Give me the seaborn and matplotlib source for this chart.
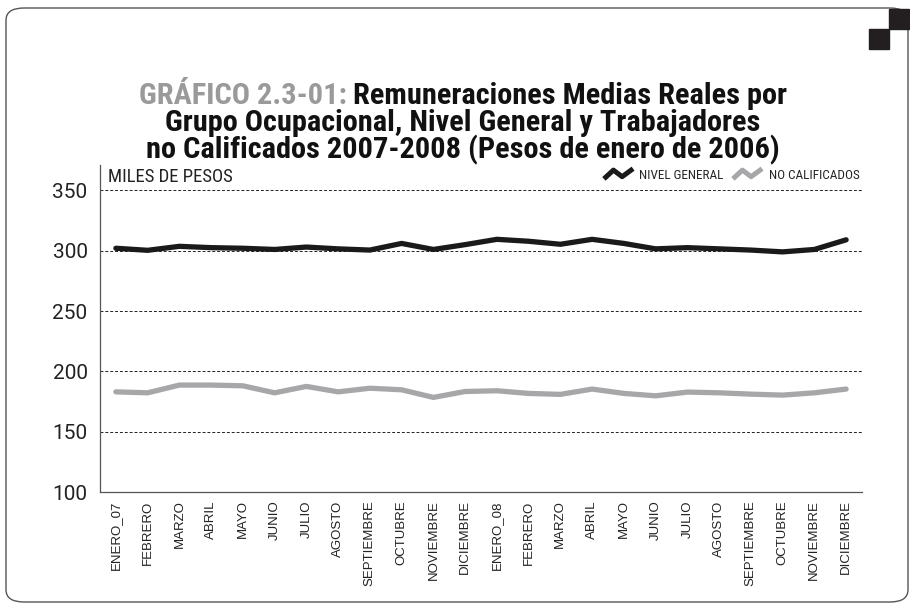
import numpy as np
import pandas as pd
import matplotlib
matplotlib.use("Agg")
import matplotlib.pyplot as plt
from matplotlib import font_manager as fm
from matplotlib.patches import FancyBboxPatch, Rectangle
from matplotlib.path import Path
from matplotlib.lines import Line2D
import seaborn as sns

meses = ["ENERO_07", "FEBRERO", "MARZO", "ABRIL", "MAYO", "JUNIO", "JULIO",
         "AGOSTO", "SEPTIEMBRE", "OCTUBRE", "NOVIEMBRE", "DICIEMBRE",
         "ENERO_08", "FEBRERO", "MARZO", "ABRIL", "MAYO", "JUNIO", "JULIO",
         "AGOSTO", "SEPTIEMBRE", "OCTUBRE", "NOVIEMBRE", "DICIEMBRE"]
nivel_general = [302.0, 300.3, 303.6, 302.5, 302.0, 301.0, 303.0, 301.5, 300.5, 306.0, 301.0, 305.0,
                 309.4, 307.8, 305.3, 309.4, 306.0, 301.5, 302.5, 301.5, 300.5, 299.0, 301.0, 309.0]
no_calificados = [183.0, 182.2, 188.6, 188.6, 188.0, 182.2, 187.5, 183.0, 186.0, 184.7, 178.4, 183.3,
                  183.9, 181.7, 180.9, 185.3, 181.7, 179.7, 182.8, 182.2, 181.1, 180.3, 182.2, 185.3]
series = ["NIVEL GENERAL", "NO CALIFICADOS"]
colores = ["#1a1a1a", "#a7a7aa"]
yticks = [100, 150, 200, 250, 300, 350]

df = pd.DataFrame({
    "idx": list(range(len(meses))) * 2,
    "valor": nivel_general + no_calificados,
    "serie": [series[0]] * len(meses) + [series[1]] * len(meses),
})

# pick a condensed family if one is available
available = {f.name for f in fm.fontManager.ttflist}
cond = next((n for n in ["Roboto Condensed", "Archivo Narrow", "PT Sans Narrow",
                         "Liberation Sans Narrow", "Open Sans Condensed"] if n in available),
            "DejaVu Sans")
plain = next((n for n in ["Liberation Sans", "Arimo", "DejaVu Sans"] if n in available), "DejaVu Sans")
narrow = [cond, "DejaVu Sans"]

sns.set_style("white")
plt.rcParams["font.family"] = narrow

fig = plt.figure(figsize=(9.1, 6.1), dpi=100)
ax = fig.add_axes([100 / 910, 1 - 492 / 610, 762 / 910, 327 / 610])

sns.lineplot(data=df, x="idx", y="valor", hue="serie", palette=colores,
             linewidth=3.8, ax=ax, legend=False, sort=False)

ax.set_xlim(-0.5, len(meses) - 0.5)
ax.set_ylim(100, 371)
ax.set_yticks(yticks)
ax.set_yticklabels([str(v) for v in yticks], fontsize=15, color="#222222",
                   family=["Roboto", "DejaVu Sans"])
ax.set_xticks(range(len(meses)))
ax.set_xticklabels(meses, rotation=90, fontsize=9.5, family=[plain, "DejaVu Sans"], color="#222222")
ax.set_xticks(np.arange(-0.5, len(meses), 1.0), minor=True)
ax.tick_params(axis="x", which="major", length=0, pad=6)
ax.tick_params(axis="x", which="minor", length=5, width=0.8, color="#555555")
ax.tick_params(axis="y", length=5, width=0.8, color="#555555", pad=4)
ax.set_xlabel("")
ax.set_ylabel("")
for v in yticks[1:]:
    ax.axhline(v, color="#222222", lw=0.7, ls=(0, (3, 2)), zorder=0)
for s in ["top", "right"]:
    ax.spines[s].set_visible(False)
for s in ["left", "bottom"]:
    ax.spines[s].set_color("#555555")
    ax.spines[s].set_linewidth(0.9)

ax.text(0.011, 0.962, "MILES DE PESOS", transform=ax.transAxes, fontsize=13.5,
        va="center", ha="left", color="#222222")

# legend with zigzag markers
zig = Path([(-1.0, -0.3), (-0.35, 0.3), (0.25, -0.15), (1.0, 0.4)],
           [Path.MOVETO, Path.LINETO, Path.LINETO, Path.LINETO])
handles = [Line2D([], [], ls="none", marker=zig, markersize=21, markeredgewidth=3.6,
                  color=c, markerfacecolor="none") for c in colores]
leg = ax.legend(handles, series, loc="upper right", bbox_to_anchor=(1.012, 1.025), ncol=2,
                frameon=False, fontsize=9.5, handlelength=2.0, handletextpad=0.6,
                columnspacing=0.8)

# frame and decorations
fig.patches.append(FancyBboxPatch((6 / 910, 8 / 610), 902 / 910, 594 / 610,
                                  boxstyle="round,pad=0,rounding_size=0.02",
                                  transform=fig.transFigure, fill=False,
                                  edgecolor="#555555", lw=1.0))
fig.patches.append(Rectangle((889 / 910, 1 - 29 / 610), 20 / 910, 20 / 610,
                             transform=fig.transFigure, color="#231f20"))
fig.patches.append(Rectangle((869 / 910, 1 - 49 / 610), 20 / 910, 20 / 610,
                             transform=fig.transFigure, color="#231f20"))

# title with gray prefix, sized between the widths of the first and last lines
title_lines = [("GRÁFICO 2.3-01: ", "Remuneraciones Medias Reales por"),
               ("", "Grupo Ocupacional, Nivel General y Trabajadores"),
               ("", "no Calificados 2007-2008 (Pesos de enero de 2006)")]
renderer = fig.canvas.get_renderer()
probe = fig.text(0, 0, "".join(title_lines[2]), fontsize=20, fontweight="bold", family=narrow)
tsize = 20 * 632 / probe.get_window_extent(renderer).width
probe.remove()
tfont = dict(fontsize=tsize, fontweight="bold", family=narrow)
y0 = 1 - 104 / 610
for i, (pre, rest) in enumerate(title_lines):
    y = y0 - i * 27 / 610
    t_pre = fig.text(0, y, pre, color="#9a9a9a", va="baseline", **tfont)
    t_rest = fig.text(0, y, rest, color="#111111", va="baseline", **tfont)
    w_pre = t_pre.get_window_extent(renderer).width if pre else 0
    w_rest = t_rest.get_window_extent(renderer).width
    x_start = (463 - (w_pre + w_rest) / 2) / 910
    t_pre.set_x(x_start)
    t_rest.set_x(x_start + w_pre / 910)

fig.savefig("out.png", dpi=100)
